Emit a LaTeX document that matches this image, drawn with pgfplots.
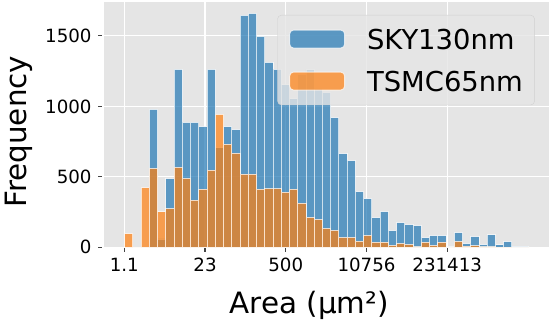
\documentclass[border=0pt]{standalone}
\usepackage{fontspec}
\setmainfont{DejaVu Sans}
\usepackage{pgfplots}
\usepackage{pgfplotstable}
\pgfplotsset{compat=1.18}
\definecolor{bg}{HTML}{E5E5E5}
\definecolor{skyblue}{HTML}{1F77B4}
\definecolor{tsmcorange}{HTML}{FF7F0E}
\definecolor{tickgray}{HTML}{444444}
\definecolor{legedge}{HTML}{CCCCCC}

% bin index (log-spaced bins), counts per bin
\pgfplotstableread{
x    sky   tsmc
0.5  0     97
1.5  0     0
2.5  0     424
3.5  978   561
4.5  59    251
5.5  488   275
6.5  1262  568
7.5  886   490
8.5  886   334
9.5  857   412
10.5 1262  547
11.5 708   943
12.5 857   732
13.5 836   668
14.5 1646  519
15.5 1660  519
16.5 1497  412
17.5 1312  417
18.5 1262  417
19.5 1153  391
20.5 1054  412
21.5 1225  313
22.5 1260  213
23.5 1130  199
24.5 1097  135
25.5 921   121
26.5 665   71
27.5 616   71
28.5 395   43
29.5 346   85
30.5 211   36
31.5 253   36
32.5 118   14
33.5 175   28
34.5 161   21
35.5 154   5
36.5 68    36
37.5 82    14
38.5 82    36
39.5 3     0
40.5 105   42
41.5 26    9
42.5 75    12
43.5 19    5
44.5 88    4
45.5 18    2
46.5 40    2
47.5 4     0
48.5 4     0
}\histdata

\begin{document}
\begin{tikzpicture}
\begin{axis}[
  scale only axis, width=444.1bp, height=245.6bp,
  xmin=-2.45, xmax=51.45, ymin=0, ymax=1743,
  clip=false,
  axis background/.style={fill=bg},
  axis line style={draw=none},
  grid=major, major grid style={draw=white, line width=1.1bp},
  xtick={-0.05,9.75,19.55,29.35,39.15},
  xticklabels={1.1,23,500,10756,231413},
  ytick={0,500,1000,1500}, yticklabels={0,500,1000,1500},
  major tick length=0pt,
  tick label style={font=\fontsize{18.3}{20}\selectfont, text=black, inner sep=0pt},
  xticklabel style={anchor=base, yshift=-24.3bp},
  yticklabel style={anchor=east, xshift=-12.7bp},
  xlabel={Area (µm²)}, ylabel={Frequency},
  label style={font=\fontsize{29.5}{32}\selectfont, inner sep=0pt},
  xlabel style={at={(rel axis cs:0.461,0)}, anchor=base, yshift=-65.9bp},
  ylabel style={at={(rel axis cs:0,0.4707)}, anchor=base, yshift=77.8bp},
  legend style={at={(0.3891,0.9459)}, anchor=north west,
    fill=bg, fill opacity=0.8, draw=legedge, draw opacity=0.8, text opacity=1,
    rounded corners=4bp, inner xsep=11.7bp, inner ysep=11.57bp,
    row sep=17.35bp, column sep=22bp,
    font=\fontsize{27.5}{30}\selectfont,
    nodes={inner sep=0pt, text height=22.35bp, text depth=2.3bp}},
  legend cell align=left,
  legend image code/.code={\draw[#1] (0bp,-9bp) rectangle (55bp,9bp);},
  histbar/.style={fill=#1, fill opacity=0.7, draw=white, draw opacity=0.7, line width=0.9bp},
]
\addplot[ybar, bar width=1, bar shift=0pt, histbar=skyblue] table[x=x, y=sky] {\histdata};
\addlegendentry{SKY130nm}
\addplot[ybar, bar width=1, bar shift=0pt, histbar=tsmcorange] table[x=x, y=tsmc] {\histdata};
\addlegendentry{TSMC65nm}
% outward tick marks
\pgfplotsinvokeforeach{-0.05,9.75,19.55,29.35,39.15}{
  \draw[tickgray, line width=1.1bp] ([yshift=-0.8bp]axis cs:#1,0) -- ([yshift=-5bp]axis cs:#1,0);
}
\pgfplotsinvokeforeach{0,500,1000,1500}{
  \draw[tickgray, line width=1.1bp] ([xshift=-2.6bp]axis cs:-2.45,#1) -- ([xshift=-6.6bp]axis cs:-2.45,#1);
}
\coordinate (bbsw) at (rel axis cs:0,0);
\coordinate (bbne) at (rel axis cs:1,1);
\end{axis}
\pgfresetboundingbox
\path ([shift={(-104.5bp,-72.7bp)}]bbsw) rectangle ([shift={(1.4bp,1.7bp)}]bbne);
\end{tikzpicture}
\end{document}
